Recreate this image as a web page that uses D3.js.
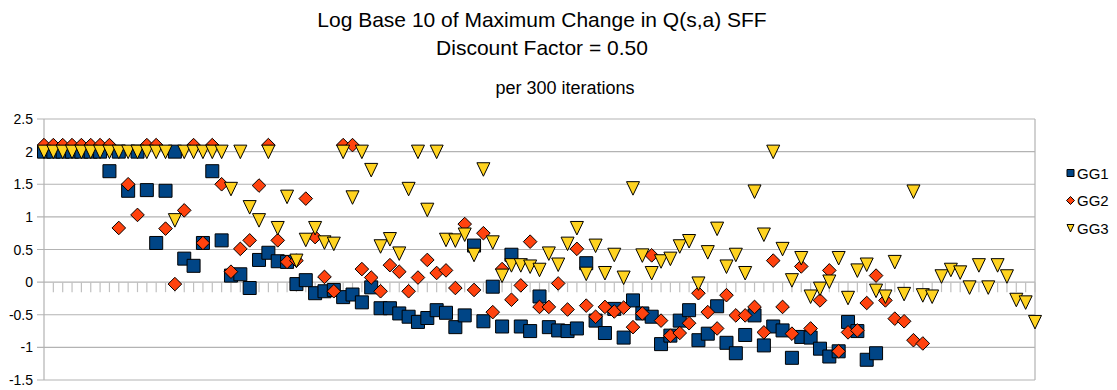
<!DOCTYPE html>
<html>
<head>
<meta charset="utf-8">
<script src="https://cdn.jsdelivr.net/npm/d3@7"></script>
<style>
  body { margin: 0; background: #fff; }
  text { font-family: "Liberation Sans", Arial, sans-serif; }
</style>
</head>
<body>
<div id="chart"></div>
<script>
// chart size
const width = 1117;
const height = 390;

// data: one point per 300 iterations
const steps = d3.range(1, 108);
const yTicks = [-1.5, -1, -0.5, 0, 0.5, 1, 1.5, 2, 2.5];
const seriesNames = ["GG1", "GG2", "GG3"];

const gg1 = [
  2, 2, 2, 2, 2, 2, 2, 1.70, 2, 1.40, 2, 1.41, 0.60, 1.40, 2, 0.36, 0.25, 0.60, 1.70, 0.64,
  0.10, 0.12, -0.09, 0.34, 0.45, 0.32, 0.31,
  -0.03, 0.03, -0.17, -0.14, -0.12, -0.23, -0.19, -0.31, -0.08, -0.40, -0.40, -0.48, -0.53,
  -0.61, -0.55, -0.43, -0.47, -0.69, -0.51, 0.56, -0.60, -0.07, -0.68, 0.42, -0.68, -0.75, -0.22,
  -0.69, -0.74, -0.75, -0.71, 0.29, -0.59, -0.78, -0.41, -0.85, -0.28, -0.48, -0.53, -0.95,
  -0.82, -0.59, -0.43, -0.89, -0.79, -0.37, -0.93, -1.09, -0.81, -0.51, -0.97, -0.68, -0.74,
  -1.16, -0.84, -0.85, -1.02, -1.14, -1.06, -0.61, -0.75, -1.19, -1.09,
  null, null, null, null, null, null, null, null, null, null, null, null, null, null, null, null, null
];

const gg2 = [
  2.1, 2.1, 2.1, 2.1, 2.1, 2.1, 2.1, 2.1, 0.83, 1.50, 1.03, 2.1, 2.1, 0.82, -0.03, 1.10, 2.1,
  0.60, 2.1, 1.50, 0.16, 0.51, 0.64, 1.48, 2.1, 0.64, 0.31,
  0.33, 1.28, 0.69, 0.08, -0.14, 2.1, 2.1, 0.20, 0.07, -0.14, 0.26, 0.16, -0.14, 0.07, 0.34,
  0.14, 0.18, -0.09, 0.89, -0.12, 0.75, -0.46, 0.20, -0.27, -0.05, 0.62, -0.38,
  -0.38, -0.02, -0.42, 0.51, -0.36, -0.53, -0.38, -0.45, -0.39, -0.69, -0.48, 0.41, -0.59,
  -0.82, -0.78, -0.63, -0.17, -0.46, -0.71, -0.20, -0.51, -0.51, -0.38, -0.77, 0.33, -0.38,
  -0.79, 0.24, -0.71, -0.28, 0.18, -1.06, -0.77, -0.74, -0.32, 0.10, -0.28, -0.56, -0.60,
  -0.89, -0.94,
  null, null, null, null, null, null, null, null, null, null, null, null
];

const gg3 = [
  2, 2, 2, 2, 2, 2, 2, 2, 2, 2, 2, 2, 2, 2, 0.95, 2, 2, 2, 2, 2, 1.43, 2, 1.15, 0.95, 2, 0.83, 1.31,
  0.33, 0.65, 0.83, 0.61, 0.59, 2, 1.30, 2, 1.72, 0.55, 0.66, 0.44, 1.43, 2, 1.11, 2, 0.65,
  0.64, 0.73, 0.42, 1.73, 0.61, 0.10, 0.26, 0.26, 0.24, 0.19,
  0.44, 0.27, 0.59, 0.83, 0.13, 0.56, 0.14, 0.42, 0.07, 1.44, 0.41, 0.14, 0.32, 0.36, 0.55,
  0.63, -0.02, 0.46, 0.82, 0.24, 0.42, 0.14, 1.39, 0.73, 2, 0.51,
  0.03, 0.37, -0.22, -0.10, 0.01, 0.37, -0.24, 0.18, 0.27, -0.13, -0.22, 0.31, -0.18, 1.39,
  -0.20, -0.22, 0.09, 0.19, 0.15, -0.08, 0.26, -0.08, 0.26, 0.09, -0.27, -0.31, -0.61
];

const colors = ["#004586", "#ff420e", "#ffd320"];
const allSeries = [gg1, gg2, gg3];

// plot area
const plotLeft = 44, plotRight = 1035, plotTop = 119, plotBottom = 380;

const svg = d3.select("#chart")
  .append("svg")
  .attr("width", width)
  .attr("height", height);

const x = d3.scalePoint().domain(steps).range([plotLeft, plotRight]);
const y = d3.scaleLinear().domain([-1.5, 2.5]).range([plotBottom, plotTop]);

// titles
svg.append("text").attr("x", 542).attr("y", 27).attr("text-anchor", "middle")
  .attr("font-size", "21px").text("Log Base 10 of Maximum Change in Q(s,a) SFF");
svg.append("text").attr("x", 542).attr("y", 55).attr("text-anchor", "middle")
  .attr("font-size", "21px").text("Discount Factor = 0.50");
svg.append("text").attr("x", 565).attr("y", 94).attr("text-anchor", "middle")
  .attr("font-size", "18px").text("per 300 iterations");

// horizontal grid lines
svg.append("g")
  .selectAll("line")
  .data(yTicks)
  .enter()
  .append("line")
  .attr("x1", plotLeft - 7)
  .attr("x2", plotRight)
  .attr("y1", d => y(d))
  .attr("y2", d => y(d))
  .attr("stroke", "#b3b3b3")
  .attr("stroke-width", 1.2);

// frame
svg.append("line").attr("x1", plotLeft).attr("x2", plotLeft).attr("y1", plotTop).attr("y2", plotBottom)
  .attr("stroke", "#b3b3b3").attr("stroke-width", 1.2);
svg.append("line").attr("x1", plotRight).attr("x2", plotRight).attr("y1", plotTop).attr("y2", plotBottom)
  .attr("stroke", "#b3b3b3").attr("stroke-width", 1.2);

// y labels
svg.append("g")
  .selectAll("text")
  .data(yTicks)
  .enter()
  .append("text")
  .attr("x", 33)
  .attr("y", d => y(d) + 5)
  .attr("text-anchor", "end")
  .attr("font-size", "14px")
  .text(d => d);

// category ticks hanging under the zero line
svg.append("g")
  .selectAll("line")
  .data(steps.slice(1))
  .enter()
  .append("line")
  .attr("x1", d => x(d))
  .attr("x2", d => x(d))
  .attr("y1", y(0))
  .attr("y2", y(0) + 10)
  .attr("stroke", "#c0c0c0")
  .attr("stroke-width", 1.2);

// marker shapes
const sq = d3.symbol().type(d3.symbolSquare).size(169)();
const dia = "M0,-6.8L6.8,0L0,6.8L-6.8,0Z";
const tri = "M-6.5,-6.5L6.5,-6.5L0,7Z";
const shapes = [sq, dia, tri];

allSeries.forEach((vals, s) => {
  const pts = steps.map((c, i) => ({ c, v: vals[i] })).filter(d => d.v !== null);
  svg.append("g")
    .selectAll("path")
    .data(pts)
    .enter()
    .append("path")
    .attr("d", shapes[s])
    .attr("transform", d => `translate(${x(d.c)},${y(d.v)})`)
    .attr("fill", colors[s])
    .attr("stroke", "#000")
    .attr("stroke-width", 1);
});

// legend
const legendSmall = [
  d3.symbol().type(d3.symbolSquare).size(49)(),
  "M0,-4L4,0L0,4L-4,0Z",
  "M-3.5,-3.5L3.5,-3.5L0,4Z"
];
seriesNames.forEach((name, s) => {
  const ly = 173 + s * 27.5;
  svg.append("path")
    .attr("d", legendSmall[s])
    .attr("transform", `translate(1070.5,${ly})`)
    .attr("fill", colors[s])
    .attr("stroke", "#000")
    .attr("stroke-width", 1);
  svg.append("text")
    .attr("x", 1077)
    .attr("y", ly + 5.5)
    .attr("font-size", "15px")
    .text(name);
});
</script>
</body>
</html>
